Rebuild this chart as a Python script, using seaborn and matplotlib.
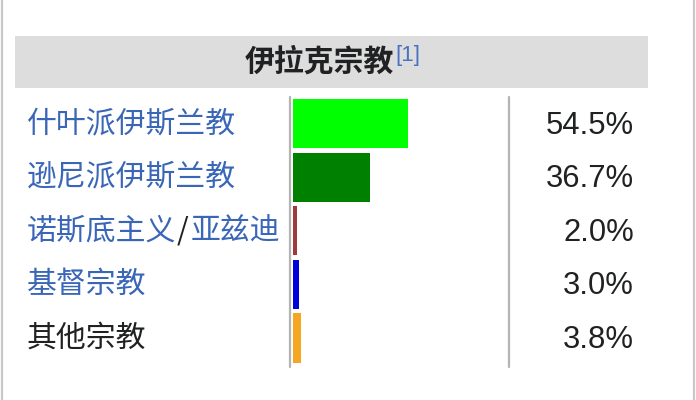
import matplotlib
matplotlib.use("Agg")
import matplotlib.pyplot as plt
from matplotlib.patches import Rectangle
from matplotlib.lines import Line2D
from matplotlib.transforms import blended_transform_factory, offset_copy
import seaborn as sns
import pandas as pd

# ---- data ----
title = "伊拉克宗教"
ref_mark = "[1]"
categories = ["什叶派伊斯兰教", "逊尼派伊斯兰教", "诺斯底主义/亚兹迪", "基督宗教", "其他宗教"]
values = [54.5, 36.7, 2.0, 3.0, 3.8]
is_link = [True, True, True, True, False]

bar_colors = ["#00ff00", "#008000", "#9e3a3a", "#0000dd", "#f5a623"]
link_color = "#3a66b8"
text_color = "#202122"

sns.set_theme(style="white")
plt.rcParams['font.family'] = ['Noto Sans CJK SC', 'DejaVu Sans']

W, H = 696, 400
fig = plt.figure(figsize=(W / 100, H / 100), dpi=100)
fig.patch.set_facecolor("white")

def fx(px):
    return px / W

def fy(py):
    return 1 - py / H

# header box
fig.add_artist(Rectangle((fx(15), fy(88)), fx(648) - fx(15), fy(36) - fy(88),
                         transform=fig.transFigure, facecolor="#dddddd",
                         edgecolor="none", zorder=0))
t = fig.text(fx(245), fy(62), title, fontsize=21.5, fontweight="bold",
             color=text_color, ha="left", va="center")
fig.canvas.draw()
r = fig.canvas.get_renderer()
bb = t.get_window_extent(r)
fig.text(bb.x1 / W + fx(1), fy(55.5), ref_mark, fontsize=16, color="#4a72c0",
         ha="left", va="center", family=["Liberation Sans", "DejaVu Sans"])

# outer borders
for xp in (2, 694):
    fig.add_artist(Line2D([fx(xp), fx(xp)], [0, 1], transform=fig.transFigure,
                          color="#c8c8c8", lw=1.6))

# bar axes: x 293..504 px = 0..100 %, rows from 96.7 to 364.8 px
top_px, bot_px = 96.7, 364.8
ax = fig.add_axes([fx(293), fy(bot_px), fx(504) - fx(293), (bot_px - top_px) / H])
df = pd.DataFrame({"religion": categories, "pct": values})
sns.barplot(data=df, x="pct", y="religion", hue="religion", palette=bar_colors,
            legend=False, width=0.915, orient="h", ax=ax, linewidth=0,
            saturation=1)
ax.set_xlim(0, 100)
ax.set_ylim(4.5, -0.5)
ax.axis("off")

# column separators
for xp in (290, 509):
    fig.add_artist(Line2D([fx(xp), fx(xp)], [fy(bot_px + 2), fy(top_px)],
                          transform=fig.transFigure, color="#b4b4b4", lw=1.6))

# row labels and values
tr_lab = blended_transform_factory(fig.transFigure, ax.transData)
tr_val = offset_copy(tr_lab, fig=fig, x=0, y=-2, units="dots")
fig.canvas.draw()
r = fig.canvas.get_renderer()
for i, (cat, v, link) in enumerate(zip(categories, values, is_link)):
    col = link_color if link else text_color
    parts = cat.split("/")
    x = fx(27)
    for j, part in enumerate(parts):
        if j > 0:
            tt = fig.text(x, 0, "/", color=text_color, fontsize=21.5,
                          ha="left", va="center", transform=tr_lab)
            tt.set_position((x, i))
            x = tt.get_window_extent(r).x1 / W + fx(3)
        tt = fig.text(x, 0, part, color=col, fontsize=21.5, ha="left",
                      va="center", transform=tr_lab)
        tt.set_position((x, i))
        x = tt.get_window_extent(r).x1 / W
    vt = fig.text(fx(634), 0, f"{v:.1f}%", color=text_color, fontsize=22.3,
                  ha="right", va="center", transform=tr_val,
                  family=["Liberation Sans", "DejaVu Sans"])
    vt.set_position((fx(634), i))

fig.savefig("out.png", dpi=100, facecolor="white")
